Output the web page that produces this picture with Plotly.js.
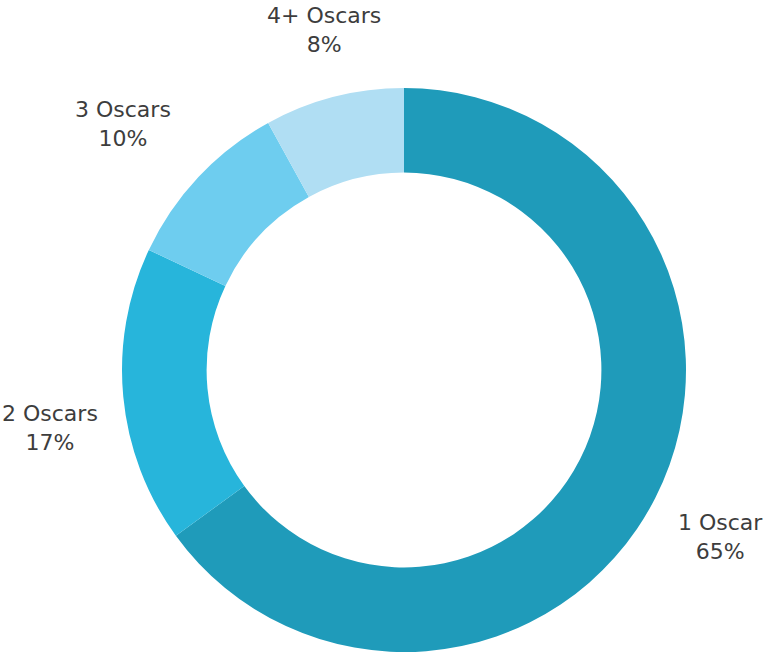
<!DOCTYPE html>
<html>
<head>
<meta charset="utf-8">
<script src="https://cdn.plot.ly/plotly-3.0.1.min.js"></script>
<style>
  html, body { margin: 0; padding: 0; background: #fff; }
  #chart { width: 768px; height: 652px; }
</style>
</head>
<body>
<div id="chart"></div>
<script>
// Данные
const categories = ["1 Oscar", "2 Oscars", "3 Oscars", "4+ Oscars"];
const shares = [65, 17, 10, 8];
const sliceColors = ["#1f9bba", "#27b5db", "#6ecdef", "#b0def3"];

// Геометрия кольца (в пикселях)
const W = 768, H = 652;
const CX = 404, CY = 370, R = 282;
const LABEL_R = 305;
const LABEL_R_TOP = 17; // верхние подписи стоят чуть дальше от кольца

const trace = {
  type: "pie",
  labels: categories,
  values: shares,
  hole: 0.7,
  sort: false,
  direction: "clockwise",
  rotation: 0,
  marker: { colors: sliceColors, line: { width: 0 } },
  textinfo: "none",
  hoverinfo: "none",
  domain: { x: [(CX - R) / W, (CX + R) / W], y: [(H - CY - R) / H, (H - CY + R) / H] },
  showlegend: false,
};

// подписи: у середины сектора, угол блока текста прижат к кольцу
const total = shares.reduce((a, b) => a + b, 0);
let cum = 0;
const annotations = categories.map((name, i) => {
  const mid = (cum + shares[i] / 2) / total * 2 * Math.PI;
  cum += shares[i];
  const s = Math.sin(mid), c = Math.cos(mid);
  const r = LABEL_R + LABEL_R_TOP * Math.max(c, 0);
  return {
    xref: "paper",
    yref: "paper",
    x: (CX + r * s) / W,
    y: (H - CY + r * c) / H,
    xanchor: Math.abs(s) < 0.5 ? "center" : (s > 0 ? "left" : "right"),
    yanchor: c > 0 ? "bottom" : "top",
    showarrow: false,
    align: "center",
    text: name + "<br>" + shares[i] + "%",
    font: { family: "DejaVu Sans", size: 22, color: "#3d3d3d" },
  };
});

const layout = {
  width: W,
  height: H,
  margin: { l: 0, r: 0, t: 0, b: 0 },
  paper_bgcolor: "#fff",
  showlegend: false,
  annotations: annotations,
};

Plotly.newPlot("chart", [trace], layout, { staticPlot: true });
</script>
</body>
</html>
